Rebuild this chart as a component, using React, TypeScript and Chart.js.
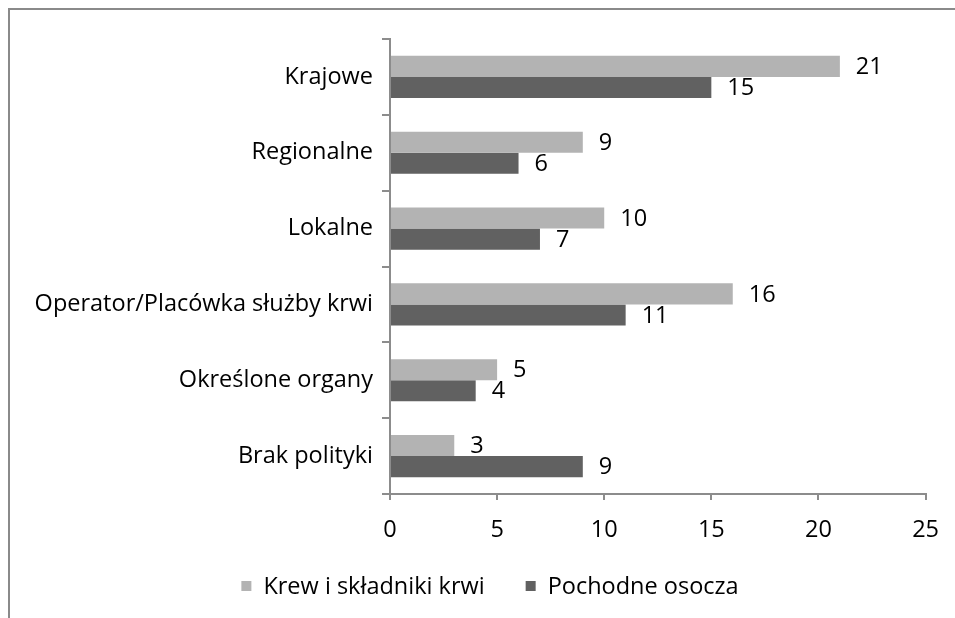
import React, { useEffect, useRef } from "react";
import { Chart, registerables } from "chart.js";

Chart.register(...registerables);

const categories = [
  "Krajowe",
  "Regionalne",
  "Lokalne",
  "Operator/Placówka służby krwi",
  "Określone organy",
  "Brak polityki",
];
const seriesNames = ["Krew i składniki krwi", "Pochodne osocza"];
const krewValues = [21, 9, 10, 16, 5, 3];
const pochodneValues = [15, 6, 7, 11, 4, 9];
const xTicks = [0, 5, 10, 15, 20, 25];

const FONT = "'Open Sans'";
const FSIZE = 23.5;
const AXIS = "#8c8c8c";

const labelPlugin = {
  id: "valueLabels",
  afterDatasetsDraw(chart: any) {
    const ctx = chart.ctx;
    ctx.save();
    ctx.font = `${FSIZE}px ${FONT}`;
    ctx.fillStyle = "#000";
    ctx.textBaseline = "middle";
    ctx.textAlign = "left";
    chart.data.datasets.forEach((ds: any, i: number) => {
      const meta = chart.getDatasetMeta(i);
      meta.data.forEach((bar: any, j: number) => {
        ctx.fillText(String(ds.data[j]), bar.x + 16, bar.y + 1);
      });
    });
    ctx.restore();
  },
};

const legendPlugin = {
  id: "customLegend",
  afterDraw(chart: any) {
    const ctx = chart.ctx;
    ctx.save();
    ctx.font = `${FSIZE}px ${FONT}`;
    ctx.textBaseline = "middle";
    const box = 10;
    const gapBox = 12;
    const gapItems = 41;
    const items = chart.data.datasets.map((ds: any) => ({
      label: ds.label,
      color: ds.backgroundColor,
      w: box + gapBox + ctx.measureText(ds.label).width,
    }));
    const total = items.reduce((a: number, b: any) => a + b.w, 0) + gapItems * (items.length - 1);
    let x = 490 - total / 2;
    const y = 586;
    items.forEach((it: any) => {
      ctx.fillStyle = it.color;
      ctx.fillRect(x, y - box / 2, box, box);
      ctx.fillStyle = "#000";
      ctx.fillText(it.label, x + box + gapBox, y + 1);
      x += it.w + gapItems;
    });
    // frame
    ctx.strokeStyle = "#8a8a8a";
    ctx.lineWidth = 2;
    ctx.beginPath();
    ctx.moveTo(9, 618);
    ctx.lineTo(9, 9);
    ctx.lineTo(955, 9);
    ctx.stroke();
    ctx.restore();
  },
};

export default function App() {
  const ref = useRef<HTMLCanvasElement | null>(null);
  useEffect(() => {
    document.body.style.margin = "0";
    const canvas = ref.current!;
    const chart = new Chart(canvas, {
      type: "bar",
      data: {
        labels: categories,
        datasets: [
          {
            label: seriesNames[0],
            data: krewValues,
            backgroundColor: "#b3b3b3",
            barPercentage: 1,
            categoryPercentage: 0.555,
          },
          {
            label: seriesNames[1],
            data: pochodneValues,
            backgroundColor: "#616161",
            barPercentage: 1,
            categoryPercentage: 0.555,
          },
        ],
      },
      options: {
        indexAxis: "y",
        animation: false,
        responsive: false,
        layout: { padding: { top: 39, right: 28, bottom: 0, left: 0 } },
        plugins: {
          legend: { display: false },
          tooltip: { enabled: false },
        },
        scales: {
          x: {
            min: 0,
            max: 25,
            afterBuildTicks: (s: any) => {
              s.ticks = xTicks.map((v) => ({ value: v }));
            },
            afterFit: (s: any) => {
              s.height = 124;
            },
            border: { color: AXIS, width: 2 },
            grid: {
              drawOnChartArea: false,
              tickLength: 6,
              color: AXIS,
              lineWidth: 2,
            },
            ticks: {
              color: "#000",
              font: { family: FONT, size: FSIZE },
              padding: 16,
            },
          },
          y: {
            afterFit: (s: any) => {
              s.width = 390;
            },
            border: { color: AXIS, width: 2 },
            grid: {
              drawOnChartArea: false,
              tickLength: 8,
              color: AXIS,
              lineWidth: 2,
              offset: true,
            },
            ticks: {
              color: "#000",
              font: { family: FONT, size: FSIZE },
              padding: 9,
            },
          },
        },
      },
      plugins: [labelPlugin, legendPlugin],
    });
    return () => chart.destroy();
  }, []);
  return (
    <div style={{ width: 955, height: 618 }}>
      <canvas ref={ref} width={955} height={618} style={{ display: "block" }} />
    </div>
  );
}
